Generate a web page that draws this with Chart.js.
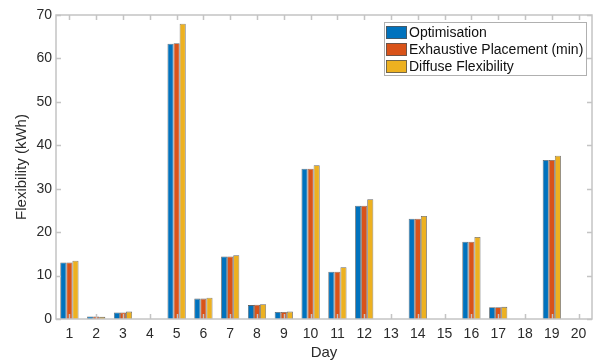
<!DOCTYPE html>
<html>
<head>
<meta charset="utf-8">
<script src="https://cdn.jsdelivr.net/npm/chart.js@4.4.1/dist/chart.umd.min.js"></script>
<style>
  html, body { margin: 0; padding: 0; background: #ffffff; }
  #wrap { width: 595px; height: 363px; }
</style>
</head>
<body>
<div id="wrap"><canvas id="c" width="595" height="363"></canvas></div>
<script>
// Daily flexibility (kWh) for each method
const days = ['1','2','3','4','5','6','7','8','9','10','11','12','13','14','15','16','17','18','19','20'];
const optimisation = [13.0, 0.6, 1.5, 0, 63.4, 4.7, 14.4, 3.2, 1.6, 34.6, 10.9, 26.1, 0, 23.1, 0, 17.8, 2.7, 0, 36.6, 0];
const exhaustiveMin = [13.0, 0.6, 1.5, 0, 63.5, 4.7, 14.4, 3.3, 1.6, 34.6, 10.9, 26.1, 0, 23.1, 0, 17.8, 2.7, 0, 36.6, 0];
const diffuse = [13.4, 0.5, 1.7, 0, 68.0, 4.9, 14.7, 3.4, 1.7, 35.4, 11.9, 27.6, 0, 23.7, 0, 18.9, 2.8, 0, 37.6, 0];
const yTicks = [0, 10, 20, 30, 40, 50, 60, 70];

const seriesNames = ['Optimisation', 'Exhaustive Placement (min)', 'Diffuse Flexibility'];
const seriesColors = ['#0072BD', '#D95319', '#EDB120'];

const FONT = '"Liberation Sans", Arial, Helvetica, sans-serif';
const AXIS_COLOR = '#c4c4c4';
const TEXT_COLOR = '#2b2b2b';

// Box around the plot with inward tick marks on all four sides
const boxAxes = {
  id: 'boxAxes',
  afterDatasetsDraw(chart) {
    const { ctx, chartArea: a, scales: { x, y } } = chart;
    const t = 5;
    ctx.save();
    ctx.strokeStyle = AXIS_COLOR;
    ctx.lineWidth = 1.5;
    ctx.beginPath();
    days.forEach((d, i) => {
      const px = Math.round(x.getPixelForValue(i)) + 0.5;
      ctx.moveTo(px, a.bottom); ctx.lineTo(px, a.bottom - t);
      ctx.moveTo(px, a.top); ctx.lineTo(px, a.top + t);
    });
    yTicks.forEach(v => {
      const py = Math.round(y.getPixelForValue(v)) + 0.5;
      ctx.moveTo(a.left, py); ctx.lineTo(a.left + t, py);
      ctx.moveTo(a.right, py); ctx.lineTo(a.right - t, py);
    });
    ctx.stroke();
    ctx.strokeRect(a.left, a.top, a.right - a.left, a.bottom - a.top);
    ctx.restore();
  }
};

// Legend box in the upper right corner of the plot
const innerLegend = {
  id: 'innerLegend',
  afterDraw(chart) {
    const { ctx } = chart;
    const bx = 384, by = 22, bw = 202, bh = 53;
    ctx.save();
    ctx.fillStyle = '#ffffff';
    ctx.fillRect(bx, by, bw, bh);
    ctx.strokeStyle = '#b0b0b0';
    ctx.lineWidth = 1;
    ctx.strokeRect(bx + 0.5, by + 0.5, bw, bh);
    ctx.font = '14px ' + FONT;
    ctx.textBaseline = 'middle';
    chart.data.datasets.forEach((ds, i) => {
      const cy = by + 10 + i * 17;
      ctx.fillStyle = ds.backgroundColor;
      ctx.fillRect(bx + 2, cy - 6, 21, 13);
      ctx.strokeStyle = '#555555';
      ctx.lineWidth = 0.8;
      ctx.strokeRect(bx + 2.5, cy - 5.5, 20, 12);
      ctx.fillStyle = '#111111';
      ctx.fillText(ds.label, bx + 25, cy + 1);
    });
    ctx.restore();
  }
};

const seriesData = [optimisation, exhaustiveMin, diffuse];

new Chart(document.getElementById('c'), {
  type: 'bar',
  data: {
    labels: days,
    datasets: seriesNames.map((name, i) => ({
      label: name,
      data: seriesData[i],
      backgroundColor: seriesColors[i],
      borderColor: 'rgba(50,50,50,0.75)',
      borderWidth: 0.8,
      categoryPercentage: 0.68,
      barPercentage: 1.0
    }))
  },
  options: {
    responsive: false,
    animation: false,
    devicePixelRatio: 1,
    layout: { padding: { left: 0, right: 3, top: 15, bottom: 0 } },
    plugins: { legend: { display: false }, tooltip: { enabled: false } },
    scales: {
      x: {
        grid: { display: false, drawTicks: false },
        border: { display: false },
        ticks: { color: TEXT_COLOR, font: { family: FONT, size: 14 }, padding: 7, maxRotation: 0, autoSkip: false },
        title: { display: true, text: 'Day', color: TEXT_COLOR, font: { family: FONT, size: 15 }, padding: { top: 0, bottom: 1 } },
        afterFit(s) { s.height = 44; }
      },
      y: {
        min: 0, max: 70,
        afterBuildTicks(s) { s.ticks = yTicks.map(v => ({ value: v })); },
        grid: { display: false, drawTicks: false },
        border: { display: false },
        ticks: { color: TEXT_COLOR, font: { family: FONT, size: 14 }, padding: 4 },
        title: { display: true, text: 'Flexibility (kWh)', color: TEXT_COLOR, font: { family: FONT, size: 15 }, padding: { top: 13, bottom: 0 } },
        afterFit(s) { s.width = 56; }
      }
    }
  },
  plugins: [boxAxes, innerLegend]
});
</script>
</body>
</html>
